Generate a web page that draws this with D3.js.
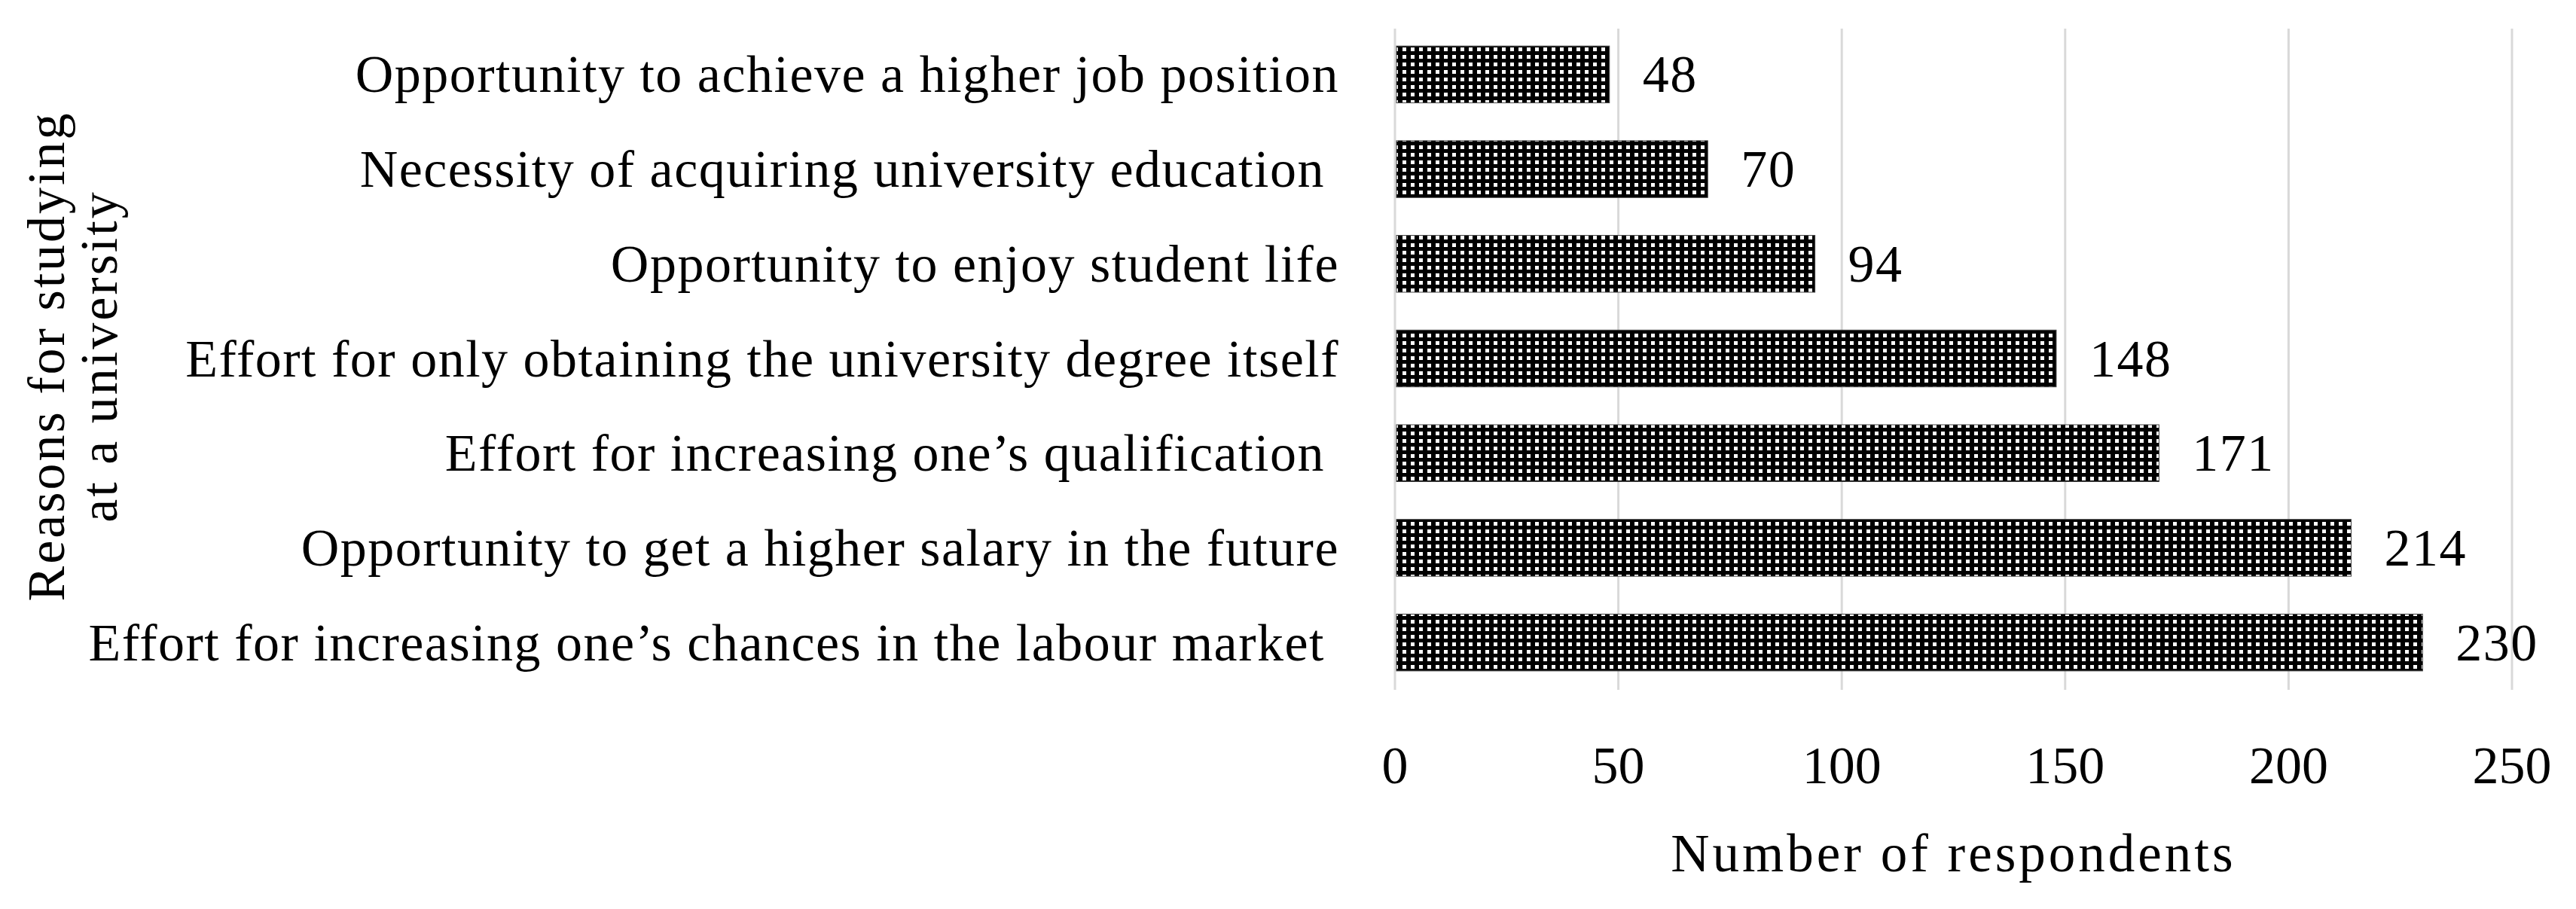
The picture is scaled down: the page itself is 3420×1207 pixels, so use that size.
<!DOCTYPE html>
<html>
<head>
<meta charset="utf-8">
<script src="https://cdn.jsdelivr.net/npm/d3@7"></script>
<style>
  body { margin: 0; background: #fff; }
  text { font-family: "Liberation Serif", "DejaVu Serif", serif; fill: #000; white-space: pre; }
</style>
</head>
<body>
<div id="chart"></div>
<script>
// reasons, top to bottom as in the figure
var reasons = [
    "Opportunity to achieve a higher job position",
    "Necessity of acquiring university education ",
    "Opportunity to enjoy student life",
    "Effort for only obtaining the university degree itself",
    "Effort for increasing one\u2019s qualification ",
    "Opportunity to get a higher salary in the future",
    "Effort for increasing one\u2019s chances in the labour market "
];
var respondents = [48, 70, 94, 148, 171, 214, 230];
var xTicks = [0, 50, 100, 150, 200, 250];
var xTitle = "Number of respondents";
var yTitle = ["Reasons for studying", "at a university"];

function makeBarChart(divID) {
    var width = 3420;
    var height = 1207;
    var fontSize = 70;

    var svg = d3.select("#" + divID).append("svg")
        .attr("width", width)
        .attr("height", height);

    // dotted fill like the Excel pattern
    var pat = svg.append("defs").append("pattern")
        .attr("id", "dots")
        .attr("patternUnits", "userSpaceOnUse")
        .attr("width", 11)
        .attr("height", 10);
    pat.append("rect").attr("width", 11).attr("height", 10).attr("fill", "#000");
    pat.append("rect").attr("x", 3).attr("y", 3).attr("width", 5).attr("height", 5).attr("fill", "#fff");

    var xScale = d3.scaleLinear()
        .domain([0, 250])
        .range([1852, 3335]);

    var yScale = d3.scaleBand()
        .domain(reasons)
        .range([36, 916])
        .paddingInner(0.4)
        .paddingOuter(0.2);

    // gridlines
    svg.append("g")
        .selectAll("line")
        .data(xTicks)
        .enter()
        .append("line")
        .attr("x1", function (d) { return xScale(d); })
        .attr("x2", function (d) { return xScale(d); })
        .attr("y1", 38)
        .attr("y2", 916)
        .attr("stroke", "#d9d9d9")
        .attr("stroke-width", 3);

    // bars
    svg.append("g")
        .selectAll("rect")
        .data(respondents)
        .enter()
        .append("rect")
        .attr("x", xScale(0) + 2)
        .attr("y", function (d, i) { return yScale(reasons[i]); })
        .attr("width", function (d) { return xScale(d) - xScale(0) - 2; })
        .attr("height", yScale.bandwidth())
        .attr("fill", "url(#dots)")
        .attr("stroke", "#404040")
        .attr("stroke-width", 1);

    // value labels
    svg.append("g")
        .selectAll("text")
        .data(respondents)
        .enter()
        .append("text")
        .attr("x", function (d) { return xScale(d) + 44; })
        .attr("y", function (d, i) { return yScale(reasons[i]) + yScale.bandwidth() / 2; })
        .attr("dominant-baseline", "central")
        .style("font-size", fontSize + "px")
        .style("letter-spacing", "1.5px")
        .text(function (d) { return d; });

    // category labels
    svg.append("g")
        .selectAll("text")
        .data(reasons)
        .enter()
        .append("text")
        .attr("x", 1778)
        .attr("y", function (d) { return yScale(d) + yScale.bandwidth() / 2; })
        .attr("text-anchor", "end")
        .attr("dominant-baseline", "central")
        .style("font-size", fontSize + "px")
        .style("letter-spacing", "1.5px")
        .text(function (d) { return d; });

    // x tick labels
    svg.append("g")
        .selectAll("text")
        .data(xTicks)
        .enter()
        .append("text")
        .attr("x", function (d) { return xScale(d); })
        .attr("y", 1040)
        .attr("text-anchor", "middle")
        .style("font-size", fontSize + "px")
        .text(function (d) { return d; });

    svg.append("text")
        .attr("x", (xScale(0) + xScale(250)) / 2)
        .attr("y", 1157)
        .attr("text-anchor", "middle")
        .style("font-size", "71px")
        .style("letter-spacing", "4px")
        .text(xTitle);

    // y title, two lines rotated
    svg.append("g")
        .selectAll("text")
        .data(yTitle)
        .enter()
        .append("text")
        .attr("transform", function (d, i) { return "translate(" + (85 + i * 70) + ",473) rotate(-90)"; })
        .attr("text-anchor", "middle")
        .style("font-size", fontSize + "px")
        .style("letter-spacing", "3px")
        .text(function (d) { return d; });
}

makeBarChart("chart");
</script>
</body>
</html>
